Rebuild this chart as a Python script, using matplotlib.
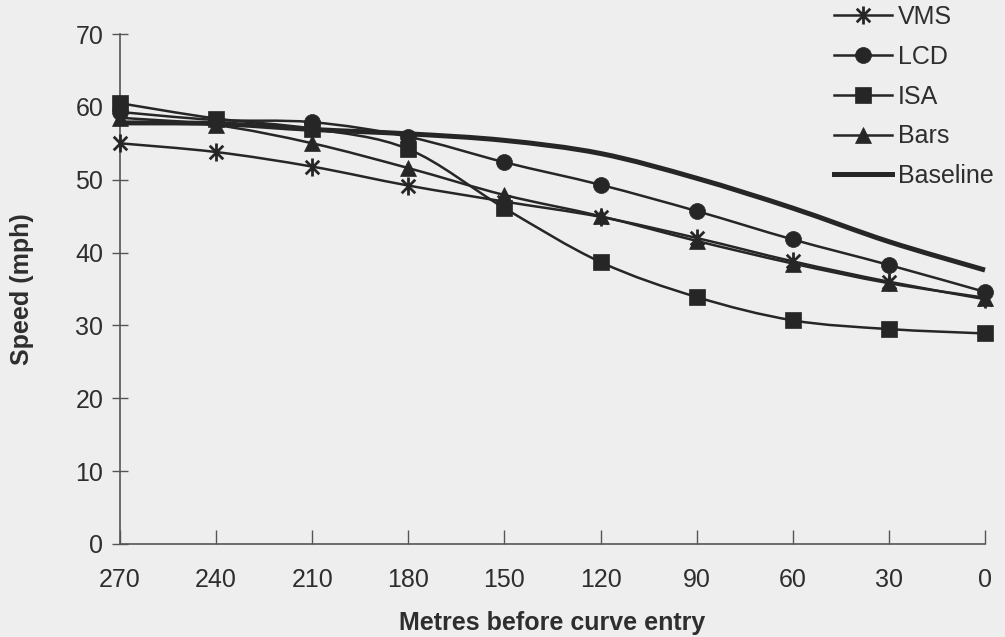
import numpy as np
import matplotlib
matplotlib.use("Agg")
import matplotlib.pyplot as plt
from matplotlib.path import Path
from matplotlib.patches import PathPatch
from matplotlib.lines import Line2D

plt.rcParams['font.family'] = ['Liberation Sans', 'DejaVu Sans']

distance = [270, 240, 210, 180, 150, 120, 90, 60, 30, 0]
vms = [55.0, 53.8, 51.8, 49.2, 47.0, 44.9, 42.0, 38.8, 36.0, 33.6]
lcd = [59.3, 58.2, 57.9, 55.9, 52.4, 49.3, 45.7, 41.8, 38.3, 34.6]
isa = [60.5, 58.4, 57.0, 54.2, 46.1, 38.7, 33.9, 30.7, 29.5, 28.9]
bars = [58.5, 57.5, 55.0, 51.6, 47.9, 45.0, 41.6, 38.5, 35.8, 33.8]
baseline = [57.8, 57.7, 56.9, 56.3, 55.4, 53.6, 50.2, 46.1, 41.5, 37.6]
x_ticks = [270, 240, 210, 180, 150, 120, 90, 60, 30, 0]
y_ticks = [0, 10, 20, 30, 40, 50, 60, 70]

BG = '#eeeeee'
INK = '#262626'
TXT = '#2e2e2e'

# Excel-like star marker: vertical bar plus an X
star = Path([(0, -1), (0, 1), (-0.75, -0.75), (0.75, 0.75), (-0.75, 0.75), (0.75, -0.75)],
            [Path.MOVETO, Path.LINETO, Path.MOVETO, Path.LINETO, Path.MOVETO, Path.LINETO])


def smooth_path(xs, ys):
    pts = np.column_stack([xs, ys]).astype(float)
    n = len(pts)
    verts = [pts[0]]
    codes = [Path.MOVETO]
    for i in range(n - 1):
        p_prev = pts[i - 1] if i > 0 else pts[i]
        p0 = pts[i]
        p1 = pts[i + 1]
        p_next = pts[i + 2] if i + 2 < n else pts[i + 1]
        c1 = p0 + (p1 - p_prev) / 6.0
        c2 = p1 - (p_next - p0) / 6.0
        verts += [c1, c2, p1]
        codes += [Path.CURVE4] * 3
    return Path(verts, codes)


fig = plt.figure(figsize=(10.05, 6.37), dpi=100, facecolor=BG)
ax = fig.add_axes([0.1194, 0.146, 0.8607, 0.8006], facecolor=BG)

series = [
    ('VMS', vms, star, 13, 1.8),
    ('LCD', lcd, 'o', 11.5, 1.8),
    ('ISA', isa, 's', 11.5, 1.8),
    ('Bars', bars, '^', 11.5, 1.8),
    ('Baseline', baseline, None, 0, 3.6),
]

handles = []
for name, ys, mk, ms, lw in series:
    patch = PathPatch(smooth_path(distance, ys), fill=False, edgecolor=INK,
                      linewidth=lw, capstyle='butt', joinstyle='round', zorder=3,
                      clip_on=False)
    ax.add_patch(patch)
    if mk is not None:
        ax.plot(distance, ys, linestyle='none', marker=mk, markersize=ms,
                color=INK, markeredgecolor=INK, markeredgewidth=2.0 if mk is star else 0.5,
                zorder=4, clip_on=False)
        handles.append(Line2D([], [], color=INK, linewidth=lw, marker=mk,
                              markersize=ms, markeredgecolor=INK,
                              markeredgewidth=2.0 if mk is star else 0.5, label=name))
    else:
        handles.append(Line2D([], [], color=INK, linewidth=lw, label=name))

ax.set_xlim(270, 0)
ax.set_ylim(0, 70)
ax.set_xticks(x_ticks)
ax.set_xticklabels([str(v) for v in x_ticks])
ax.set_yticks(y_ticks)
ax.set_yticklabels([str(v) for v in y_ticks])

for s in ['top', 'right']:
    ax.spines[s].set_visible(False)
for s in ['left', 'bottom']:
    ax.spines[s].set_color('#555555')
    ax.spines[s].set_linewidth(1.2)

ax.tick_params(axis='y', direction='inout', length=12, width=1.0, color='#555555',
               labelsize=18, labelcolor=TXT, pad=6)
ax.tick_params(axis='x', direction='in', length=10, width=1.0, color='#555555',
               labelsize=18, labelcolor=TXT, pad=17)

ax.set_xlabel('Metres before curve entry', fontsize=18, fontweight='bold',
              color=TXT, labelpad=14)
ax.set_ylabel('Speed (mph)', fontsize=18, fontweight='bold', color=TXT,
              labelpad=30)

leg = fig.legend(handles=handles, loc='upper left', bbox_to_anchor=(0.830, 0.992),
                 frameon=False, fontsize=18, handlelength=2.3, handletextpad=0.25,
                 labelspacing=0.63, borderaxespad=0, borderpad=0)
for t in leg.get_texts():
    t.set_color(TXT)

fig.savefig('out.png', dpi=100, facecolor=BG)
